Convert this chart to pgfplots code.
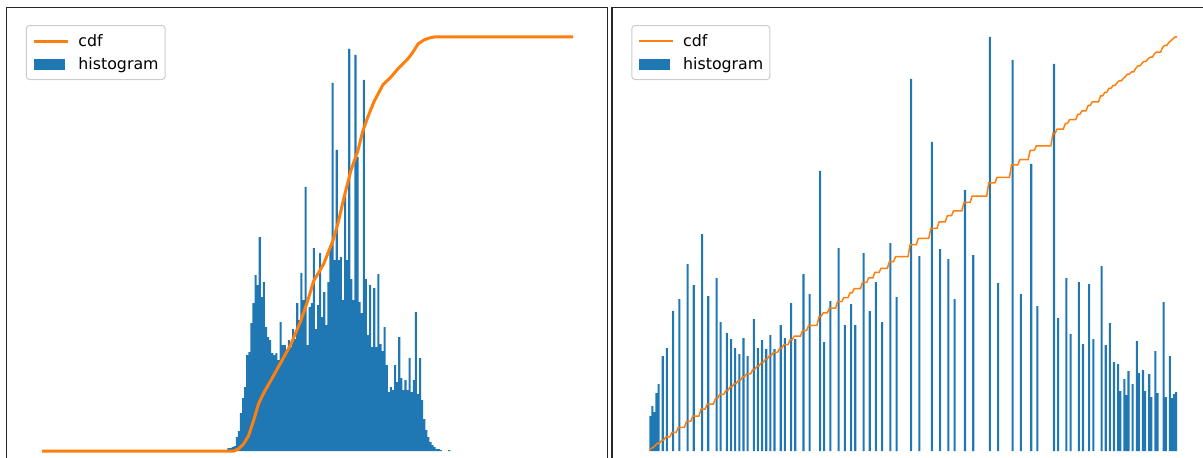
\documentclass[border=0pt]{standalone}
\usepackage{pgfplots}
\pgfplotsset{compat=1.18}
\usepackage{fontspec}
\setmainfont{DejaVu Sans}
\definecolor{c0}{HTML}{1F77B4}
\definecolor{c1}{HTML}{FF7F0E}

\pgfplotstableread{
bin h
89 3
90 3
91 4
92 5
93 14
94 20
95 38
96 53
97 64
98 96
99 99
100 128
101 148
102 176
103 166
104 214
105 154
106 169
107 124
108 114
109 111
110 98
111 96
112 98
113 91
114 129
115 106
116 106
117 98
118 111
119 104
120 122
121 112
122 148
123 131
124 178
125 151
126 264
127 106
128 144
129 148
130 203
131 122
132 146
133 198
134 134
135 159
136 126
137 169
138 206
139 368
140 191
141 301
142 191
143 194
144 151
145 258
146 191
147 402
148 172
149 151
150 396
151 294
152 149
153 138
154 371
155 172
156 116
157 166
158 104
159 163
160 104
161 177
162 107
163 100
164 124
165 86
166 59
167 64
168 61
169 86
170 69
171 114
172 73
173 61
174 71
175 61
176 93
177 59
178 71
179 139
180 57
181 93
182 51
183 32
184 21
185 14
186 9
187 6
188 4
189 2
190 2
191 1
195 1
}\histL

\pgfplotstableread{
bin h
0 35
1 45
2 39
3 58
4 67
6 95
8 103
11 140
14 152
18 187
21 166
25 217
28 155
32 173
34 129
37 118
39 112
41 103
43 97
45 113
47 95
50 132
52 103
54 111
56 102
58 116
60 102
63 126
65 113
68 148
70 112
74 177
77 157
82 280
84 109
87 150
91 203
94 126
97 147
99 126
103 198
106 140
109 169
112 129
116 208
119 154
126 372
130 195
136 309
140 202
144 192
147 152
152 261
156 196
164 414
168 168
175 391
179 157
184 287
187 145
195 387
197 133
201 173
203 117
207 169
209 107
212 167
214 112
218 185
220 106
222 128
224 89
226 87
227 60
229 72
230 56
231 80
233 67
235 110
236 78
238 81
239 60
241 77
242 54
244 100
245 58
248 149
249 54
251 95
252 53
253 57
254 59
}\histR

\pgfplotstableread{
x y
0 0
92 0
94.3 2
96.7 7
99.1 15
101.5 30
103.9 47
106.4 58
109.7 70
114.5 88
119.3 106
124.2 130
127.5 150
130.4 170
135.2 187
139.6 210
142 227
144.9 253
148.2 280
151.6 300
154 320
156.4 334
159.3 349
163.6 366
167.5 374
170.8 382
175.6 392
178.1 399
180.5 407
183.3 411
186 413
188.2 414
255 414
}\cdfL

\pgfplotstableread{
x y
0 1.13
1 2.58
2 3.83
3 5.70
4 7.86
5 7.86
6 10.92
7 10.92
8 14.23
10 14.23
11 18.74
13 18.74
14 23.63
17 23.63
18 29.66
20 29.66
21 35.00
24 35.00
25 41.99
27 41.99
28 46.98
31 46.98
32 52.55
33 52.55
34 56.70
36 56.70
37 60.50
38 60.50
39 64.11
40 64.11
41 67.43
42 67.43
43 70.55
44 70.55
45 74.19
46 74.19
47 77.25
49 77.25
50 81.50
51 81.50
52 84.81
53 84.81
54 88.39
55 88.39
56 91.67
57 91.67
58 95.41
59 95.41
60 98.69
62 98.69
63 102.75
64 102.75
65 106.39
67 106.39
68 111.15
69 111.15
70 114.76
73 114.76
74 120.46
76 120.46
77 125.52
81 125.52
82 134.53
83 134.53
84 138.04
86 138.04
87 142.87
90 142.87
91 149.41
93 149.41
94 153.47
96 153.47
97 158.20
98 158.20
99 162.26
102 162.26
103 168.63
105 168.63
106 173.14
108 173.14
109 178.58
111 178.58
112 182.74
115 182.74
116 189.43
118 189.43
119 194.39
125 194.39
126 206.37
129 206.37
130 212.65
135 212.65
136 222.60
139 222.60
140 229.10
143 229.10
144 235.29
146 235.29
147 240.18
151 240.18
152 248.58
155 248.58
156 254.90
163 254.90
164 268.23
167 268.23
168 273.64
174 273.64
175 286.23
178 286.23
179 291.28
183 291.28
184 300.52
186 300.52
187 305.19
194 305.19
195 317.65
196 317.65
197 321.94
200 321.94
201 327.51
202 327.51
203 331.27
206 331.27
207 336.72
208 336.72
209 340.16
211 340.16
212 345.54
213 345.54
214 349.14
217 349.14
218 355.10
219 355.10
220 358.51
221 358.51
222 362.64
223 362.64
224 365.50
225 365.50
226 368.30
227 370.24
228 370.24
229 372.55
230 374.36
231 376.93
232 376.93
233 379.09
234 379.09
235 382.63
236 385.14
237 385.14
238 387.75
239 389.68
240 389.68
241 392.16
242 393.90
243 393.90
244 397.12
245 398.99
247 398.99
248 403.79
249 405.53
250 405.53
251 408.59
252 410.29
253 412.13
254 414.03
255 414.03
}\cdfR

\pgfplotsset{
  panel/.style={
    scale only axis,
    height=232.25pt,
    ymin=-21, ymax=443.5,
    xtick=\empty, ytick=\empty,
    axis line style={black!85, line width=0.7pt},
    reverse legend,
    legend cell align=left,
    legend style={
      at={(0.0324,0.9623)}, anchor=north west,
      font=\fontsize{7.9}{9.5}\selectfont,
      draw=black!20, fill=white, fill opacity=0.8, text opacity=1,
      rounded corners=1.5pt, line width=0.5pt,
      inner xsep=3.25pt, inner ysep=2.75pt,
      row sep=1.5pt,
      nodes={inner sep=0pt, text height=7.5pt, text depth=2.5pt},
    },
  },
  barimg/.style={legend image code/.code={%
    \fill[c0, draw=none, sharp corners, fill opacity=1] (0pt,-2.75pt) rectangle (15.5pt,2.75pt);
    \path[draw=none, fill=none] (0pt,0pt) -- (22pt,0pt);}},
}

\begin{document}
\begin{tikzpicture}
\useasboundingbox (0,0) rectangle (601.5pt,-229pt);
\clip (0,0) rectangle (601.5pt,-229pt);
\begin{axis}[panel, at={(3.25pt,-3.75pt)}, anchor=north west,
  width=300.5pt, xmin=-17.1, xmax=271.5]
  \addplot[ybar, bar width=1, bar shift=0.5, fill=c0, draw=none, barimg] table[x=bin, y=h] {\histL};
  \addlegendentry{histogram}
  \addplot[c1, line width=1.5pt, no markers,
    legend image code/.code={\draw[c1, line width=1.5pt, sharp corners] (0pt,0pt) -- (17pt,0pt); \path[draw=none, fill=none] (0pt,0pt) -- (22pt,0pt);}] table[x=x, y=y] {\cdfL};
  \addlegendentry{cdf}
\end{axis}
\begin{axis}[panel, at={(306pt,-3.75pt)}, anchor=north west,
  width=299.65pt, xmin=-18, xmax=271.5]
  \addplot[ybar, bar width=1, bar shift=0.5, fill=c0, draw=none, barimg] table[x=bin, y=h] {\histR};
  \addlegendentry{histogram}
  \addplot[c1, line width=0.75pt, no markers,
    legend image code/.code={\draw[c1, line width=0.75pt, sharp corners] (0pt,0pt) -- (17pt,0pt); \path[draw=none, fill=none] (0pt,0pt) -- (22pt,0pt);}] table[x=x, y=y] {\cdfR};
  \addlegendentry{cdf}
\end{axis}
\end{tikzpicture}
\end{document}
